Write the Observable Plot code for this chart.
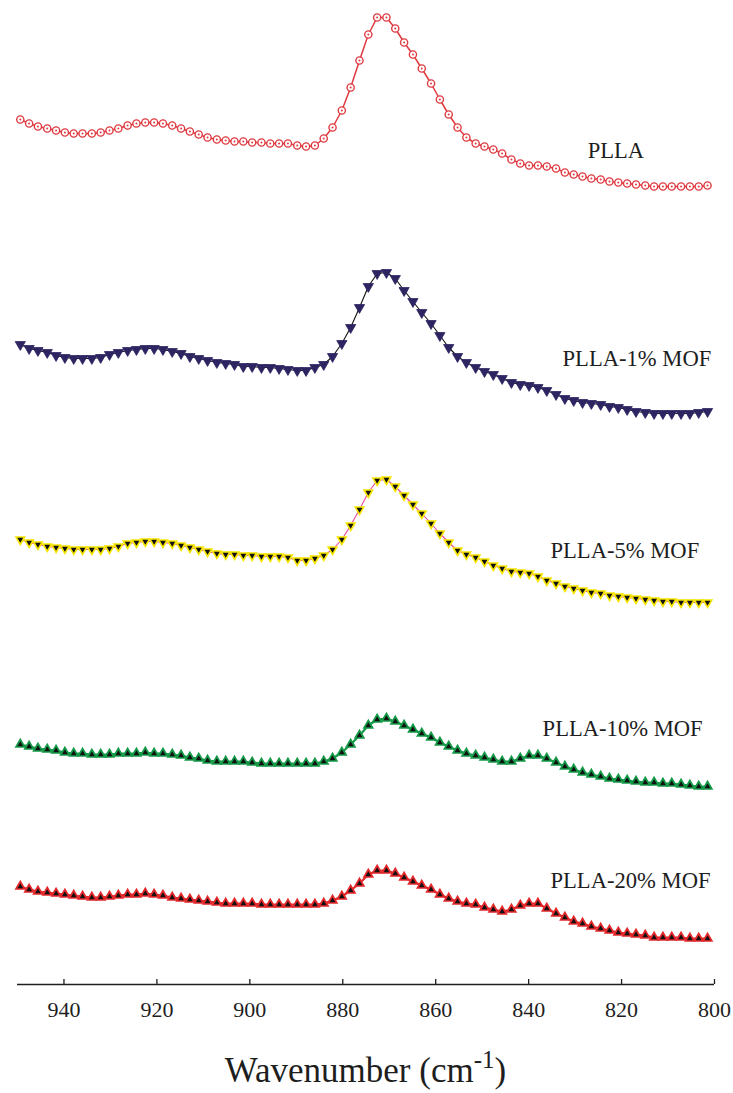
<!DOCTYPE html>
<html>
<head>
<meta charset="utf-8">
<script src="https://cdn.jsdelivr.net/npm/d3@7"></script>
<script src="https://cdn.jsdelivr.net/npm/@observablehq/plot@0.6"></script>
<style>
  html, body { margin: 0; padding: 0; background: #fff; }
  #chart svg { display: block; }
  #chart svg text { font-family: "Liberation Serif", "Times New Roman", serif; }
</style>
</head>
<body>
<div id="chart"></div>
<script>
// Wavenumber grid (cm-1) shared by all spectra
const wavenumbers = [949.4,947.5,945.6,943.6,941.7,939.8,937.9,936.0,934.0,932.1,
  930.2,928.3,926.3,924.4,922.5,920.6,918.7,916.7,914.8,912.9,
  911.0,909.1,907.1,905.2,903.3,901.4,899.5,897.5,895.6,893.7,
  891.8,889.8,887.9,886.0,884.1,882.2,880.2,878.3,876.4,874.5,
  872.6,870.6,868.7,866.8,864.9,863.0,861.0,859.1,857.2,855.3,
  853.4,851.4,849.5,847.6,845.7,843.7,841.8,839.9,838.0,836.1,
  834.1,832.2,830.3,828.4,826.5,824.5,822.6,820.7,818.8,816.9,
  814.9,813.0,811.1,809.2,807.2,805.3,803.4,801.5];

// Stacked (offset) intensities, arbitrary units
const pllaValues = [86.5,86.1,85.8,85.6,85.4,85.2,85.1,85.1,85.1,85.2,
  85.4,85.6,85.9,86.1,86.2,86.2,86.1,85.9,85.6,85.3,
  85.0,84.7,84.5,84.4,84.3,84.3,84.2,84.2,84.1,84.1,
  84.1,83.9,83.8,83.9,84.6,85.7,87.4,89.7,92.4,95.0,
  96.7,96.7,95.6,94.2,93.0,91.6,90.1,88.5,87.0,85.7,
  84.7,84.1,83.8,83.5,83.1,82.5,82.1,81.9,81.9,81.8,
  81.6,81.2,81.0,80.8,80.6,80.5,80.3,80.2,80.1,80.0,
  79.9,79.8,79.8,79.8,79.8,79.8,79.8,79.9];

const mof1Values = [64.0,63.6,63.4,63.2,62.9,62.7,62.6,62.6,62.6,62.7,
  63.0,63.2,63.4,63.5,63.6,63.6,63.5,63.3,63.1,62.8,
  62.6,62.4,62.2,62.1,62.0,61.8,61.8,61.7,61.7,61.6,
  61.5,61.4,61.4,61.7,62.0,62.8,64.1,65.7,67.7,69.8,
  71.1,71.2,70.6,69.4,68.3,67.2,66.1,64.9,63.7,62.8,
  62.2,61.7,61.3,61.0,60.6,60.2,60.0,59.9,59.7,59.4,
  59.0,58.6,58.4,58.2,58.1,58.0,57.8,57.7,57.5,57.3,
  57.2,57.1,57.1,57.1,57.1,57.1,57.2,57.3];

const mof5Values = [44.5,44.2,44.0,43.8,43.7,43.6,43.5,43.5,43.5,43.5,
  43.6,43.8,44.1,44.2,44.3,44.3,44.2,44.1,43.9,43.7,
  43.5,43.3,43.1,43.0,43.0,42.9,42.9,42.8,42.8,42.8,
  42.7,42.4,42.4,42.6,42.9,43.5,44.5,45.9,47.5,49.2,
  50.4,50.5,49.8,48.9,48.0,47.1,46.1,45.1,44.2,43.4,
  43.0,42.7,42.3,41.9,41.6,41.3,41.2,41.1,40.8,40.4,
  40.1,39.8,39.6,39.4,39.2,39.1,38.9,38.8,38.7,38.6,
  38.5,38.4,38.3,38.3,38.2,38.2,38.2,38.2];

const mof10Values = [24.0,23.8,23.6,23.5,23.4,23.2,23.1,23.1,23.0,23.0,
  23.0,23.1,23.1,23.1,23.2,23.1,23.1,23.0,22.9,22.7,
  22.6,22.4,22.3,22.3,22.3,22.3,22.2,22.1,22.1,22.1,
  22.1,22.1,22.1,22.1,22.3,22.6,23.2,24.0,24.9,25.9,
  26.5,26.6,26.3,25.9,25.5,25.1,24.7,24.2,23.8,23.4,
  23.1,22.9,22.7,22.5,22.3,22.3,22.6,22.9,22.9,22.6,
  22.2,21.8,21.5,21.2,21.0,20.8,20.6,20.5,20.4,20.3,
  20.2,20.2,20.1,20.1,20.0,19.9,19.8,19.8];

const mof20Values = [9.8,9.5,9.3,9.2,9.1,9.0,8.9,8.8,8.7,8.7,
  8.8,8.9,9.0,9.0,9.1,9.0,8.9,8.7,8.6,8.5,
  8.4,8.3,8.2,8.1,8.1,8.1,8.1,8.0,8.0,8.0,
  8.0,8.0,8.0,8.0,8.1,8.4,8.8,9.4,10.1,11.0,
  11.4,11.4,11.1,10.7,10.3,9.9,9.5,9.0,8.6,8.3,
  8.1,8.0,7.7,7.5,7.3,7.5,7.9,8.1,8.1,7.6,
  7.1,6.7,6.3,6.1,5.8,5.6,5.4,5.2,5.1,5.0,
  4.9,4.7,4.7,4.7,4.7,4.6,4.6,4.6];

const seriesNames = ["PLLA", "PLLA-1% MOF", "PLLA-5% MOF", "PLLA-10% MOF", "PLLA-20% MOF"];
const labelWavenumbers = [827.3, 832.7, 835.3, 837.0, 835.3];
const labelLevels = [83.4, 62.6, 43.4, 25.6, 10.4];
const xTicks = [940, 920, 900, 880, 860, 840, 820, 800];

const toRows = (vals) => vals.map((v, i) => ({wn: wavenumbers[i], v}));
const plla = toRows(pllaValues);
const mof1 = toRows(mof1Values);
const mof5 = toRows(mof5Values);
const mof10 = toRows(mof10Values);
const mof20 = toRows(mof20Values);
const labels = seriesNames.map((name, i) => ({name, wn: labelWavenumbers[i], v: labelLevels[i]}));

const triangleDown = {
  draw(context, size) {
    const s3 = Math.sqrt(3);
    const y = -Math.sqrt(size / (s3 * 3));
    context.moveTo(0, -y * 2);
    context.lineTo(-s3 * y, y);
    context.lineTo(s3 * y, y);
    context.closePath();
  }
};

const red = "#df3a40";
const navy = "#2c2562";
const yellow = "#f7e600";
const pink = "#e8479a";
const green = "#159a48";
const red2 = "#e4292c";
const ink = "#1e1e1e";
const serif = "Liberation Serif, Times New Roman, serif";

const chart = Plot.plot({
  width: 733,
  height: 1093,
  marginTop: 14,
  marginRight: 19,
  marginBottom: 109,
  marginLeft: 17,
  style: {fontFamily: serif, background: "#fff", color: ink},
  x: {domain: [950, 800], label: null},
  y: {domain: [0, 97], axis: null},
  marks: [
    Plot.ruleY([0], {stroke: ink, strokeWidth: 1.6}),
    Plot.ruleX(xTicks, {y1: 0, y2: 0.5, stroke: ink, strokeWidth: 1.3}),
    Plot.axisX({ticks: xTicks, tickFormat: d => String(d), tickSize: 0, tickPadding: 17, fontSize: 22, fill: ink, label: null}),

    // PLLA
    Plot.line(plla, {x: "wn", y: "v", stroke: red, strokeWidth: 1.5}),
    Plot.dot(plla, {x: "wn", y: "v", r: 3.6, stroke: red, fill: "white", strokeWidth: 1.4}),
    Plot.dot(plla, {x: "wn", y: "v", r: 1, fill: red, stroke: "none"}),

    // 1% MOF
    Plot.line(mof1, {x: "wn", y: "v", stroke: "#111", strokeWidth: 1.1}),
    Plot.dot(mof1, {x: "wn", y: "v", symbol: triangleDown, r: 3.8, fill: navy, stroke: navy, strokeWidth: 0.8}),

    // 5% MOF
    Plot.line(mof5, {x: "wn", y: "v", stroke: pink, strokeWidth: 1.1}),
    Plot.dot(mof5, {x: "wn", y: "v", symbol: triangleDown, r: 3.2, fill: "#111", stroke: yellow, strokeWidth: 1.6}),

    // 10% MOF
    Plot.line(mof10, {x: "wn", y: "v", stroke: green, strokeWidth: 2.2}),
    Plot.dot(mof10, {x: "wn", y: "v", symbol: "triangle", r: 3.2, fill: "#111", stroke: green, strokeWidth: 1.7}),

    // 20% MOF
    Plot.line(mof20, {x: "wn", y: "v", stroke: red2, strokeWidth: 2.2}),
    Plot.dot(mof20, {x: "wn", y: "v", symbol: "triangle", r: 3.2, fill: "#111", stroke: red2, strokeWidth: 1.7}),

    // series labels
    Plot.text(labels, {x: "wn", y: "v", text: "name", textAnchor: "start", fontSize: 22.6, fill: ink})
  ]
});

document.getElementById("chart").appendChild(chart);

// Axis title with superscript
const svg = d3.select(chart);
const title = svg.append("text")
  .attr("x", 365.5)
  .attr("y", 1082)
  .attr("text-anchor", "middle")
  .attr("font-size", 35)
  .attr("fill", ink);
title.append("tspan").text("Wavenumber (cm");
title.append("tspan").attr("font-size", 25).attr("dy", -14).text("-1");
title.append("tspan").attr("dy", 14).text(")");
svg.selectAll("text").attr("font-family", serif);
</script>
</body>
</html>
